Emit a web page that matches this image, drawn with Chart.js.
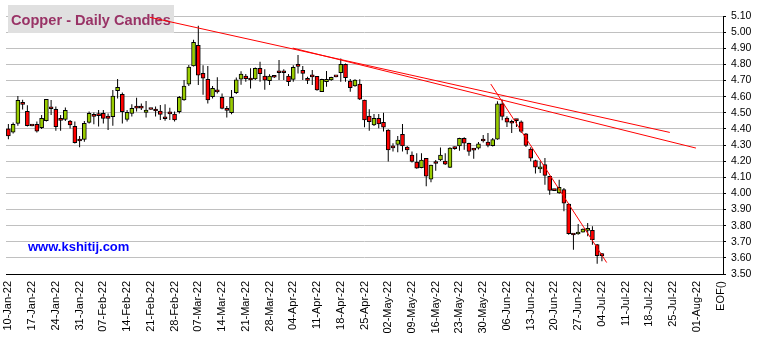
<!DOCTYPE html>
<html>
<head>
<meta charset="utf-8">
<script src="https://cdn.jsdelivr.net/npm/chart.js@4/dist/chart.umd.min.js"></script>
<style>
  html, body { margin: 0; padding: 0; background: #ffffff; }
  #wrap { width: 758px; height: 340px; }
</style>
</head>
<body>
<div id="wrap"><canvas id="c" width="758" height="340"></canvas></div>
<script>
// Weekly axis labels (one every 5 sessions), last slot is the end-of-file marker
const weekLabels = ['10-Jan-22','17-Jan-22','24-Jan-22','31-Jan-22','07-Feb-22','14-Feb-22','21-Feb-22','28-Feb-22',
  '07-Mar-22','14-Mar-22','21-Mar-22','28-Mar-22','04-Apr-22','11-Apr-22','18-Apr-22','25-Apr-22',
  '02-May-22','09-May-22','16-May-22','23-May-22','30-May-22','06-Jun-22','13-Jun-22','20-Jun-22','27-Jun-22',
  '04-Jul-22','11-Jul-22','18-Jul-22','25-Jul-22','01-Aug-22','EOF()'];

// Daily copper OHLC, one entry per session starting 10-Jan-22
const open = [4.400,4.379,4.434,4.557,4.509,4.422,4.428,4.407,4.451,4.529,
  4.521,4.457,4.459,4.449,4.416,4.331,4.335,4.440,4.482,4.486,
  4.496,4.480,4.476,4.637,4.614,4.459,4.496,4.533,4.533,4.502,
  4.523,4.515,4.511,4.467,4.505,4.492,4.507,4.579,4.678,4.790,
  4.918,4.745,4.707,4.600,4.633,4.595,4.519,4.501,4.624,4.708,
  4.728,4.707,4.710,4.776,4.728,4.699,4.724,4.752,4.752,4.728,
  4.707,4.792,4.763,4.705,4.726,4.726,4.631,4.693,4.703,4.726,
  4.748,4.800,4.697,4.666,4.678,4.579,4.480,4.424,4.466,4.441,
  4.393,4.286,4.304,4.366,4.287,4.238,4.194,4.160,4.217,4.088,
  4.189,4.207,4.200,4.161,4.282,4.294,4.342,4.311,4.272,4.280,
  4.329,4.318,4.296,4.336,4.556,4.467,4.439,4.455,4.444,4.369,
  4.274,4.203,4.151,4.178,4.106,4.021,4.003,4.023,3.934,3.746,
  3.748,3.760,3.771,3.771,3.682,3.618];

const high = [4.430,4.440,4.604,4.580,4.546,4.423,4.445,4.486,4.585,4.579,
  4.538,4.486,4.533,4.455,4.445,4.356,4.449,4.507,4.502,4.517,
  4.517,4.496,4.641,4.709,4.626,4.517,4.552,4.593,4.558,4.573,
  4.524,4.538,4.548,4.552,4.531,4.507,4.604,4.703,4.796,4.952,
  5.039,4.794,4.790,4.666,4.720,4.620,4.542,4.641,4.718,4.758,
  4.740,4.776,4.780,4.817,4.770,4.738,4.730,4.827,4.770,4.740,
  4.794,4.858,4.790,4.724,4.765,4.728,4.711,4.759,4.724,4.728,
  4.837,4.806,4.710,4.707,4.708,4.580,4.522,4.493,4.493,4.500,
  4.398,4.311,4.356,4.431,4.294,4.259,4.249,4.249,4.218,4.178,
  4.207,4.284,4.249,4.286,4.290,4.345,4.348,4.314,4.282,4.318,
  4.362,4.375,4.343,4.571,4.581,4.478,4.457,4.462,4.452,4.374,
  4.286,4.209,4.199,4.220,4.110,4.024,4.085,4.033,3.940,3.748,
  3.810,3.782,3.816,3.796,3.686,3.630];

const low = [4.335,4.372,4.420,4.520,4.414,4.417,4.378,4.399,4.445,4.486,
  4.389,4.389,4.449,4.403,4.310,4.286,4.320,4.434,4.428,4.414,
  4.434,4.393,4.420,4.589,4.434,4.445,4.476,4.507,4.517,4.471,
  4.519,4.476,4.455,4.451,4.455,4.445,4.496,4.575,4.666,4.787,
  4.672,4.611,4.558,4.589,4.620,4.521,4.471,4.490,4.616,4.673,
  4.693,4.650,4.703,4.693,4.643,4.672,4.715,4.703,4.703,4.666,
  4.693,4.744,4.703,4.678,4.672,4.637,4.631,4.662,4.699,4.720,
  4.693,4.693,4.631,4.662,4.579,4.410,4.389,4.418,4.404,4.383,
  4.197,4.259,4.255,4.259,4.242,4.191,4.152,4.156,4.044,4.069,
  4.141,4.201,4.176,4.157,4.270,4.265,4.270,4.234,4.214,4.272,
  4.315,4.286,4.290,4.333,4.453,4.412,4.375,4.412,4.375,4.288,
  4.199,4.123,4.127,4.054,3.992,4.015,3.998,3.889,3.744,3.651,
  3.744,3.757,3.734,3.682,3.564,3.579];

const close = [4.356,4.428,4.577,4.552,4.420,4.418,4.385,4.465,4.583,4.525,
  4.414,4.453,4.515,4.424,4.314,4.325,4.434,4.496,4.478,4.482,
  4.465,4.465,4.604,4.657,4.507,4.502,4.527,4.529,4.529,4.517,
  4.520,4.511,4.490,4.463,4.492,4.455,4.595,4.666,4.783,4.937,
  4.733,4.714,4.580,4.652,4.629,4.527,4.515,4.596,4.704,4.740,
  4.711,4.703,4.776,4.742,4.702,4.728,4.720,4.748,4.748,4.693,
  4.782,4.788,4.744,4.701,4.722,4.641,4.707,4.707,4.720,4.722,
  4.800,4.717,4.656,4.703,4.584,4.455,4.445,4.466,4.431,4.410,
  4.269,4.282,4.331,4.294,4.270,4.198,4.157,4.207,4.107,4.176,
  4.185,4.238,4.181,4.281,4.278,4.342,4.311,4.260,4.268,4.307,
  4.325,4.298,4.333,4.556,4.477,4.442,4.435,4.451,4.384,4.298,
  4.219,4.162,4.164,4.112,4.019,4.017,4.038,3.940,3.750,3.742,
  3.760,3.779,3.779,3.713,3.614,3.614];

// Hand-drawn trend lines: [session index, price] end points
const trendUpper = [[29.8, 5.092], [139.3, 4.378]];
const trendLower = [[59.9, 4.901], [144.8, 4.281]];
const trendSteep = [[101.6, 4.678], [126.0, 3.571]];

const UP = '#99cc00', DOWN = '#ff0000', TREND = '#ff0000';

const bodies = open.map((o, i) => ({ x: i, y: [o, close[i]] }));
const wicks  = open.map((o, i) => ({ x: i, y: [low[i], high[i]] }));
const bodyColors = open.map((o, i) => close[i] >= o ? UP : DOWN);
const toPts = seg => seg.map(p => ({ x: p[0], y: p[1] }));

const FONT = '"Liberation Sans", Arial, sans-serif';

// Grey title plate drawn under the data, plus site tag drawn on top
const decorations = {
  id: 'decorations',
  beforeDatasetsDraw(chart) {
    const ctx = chart.ctx;
    ctx.save();
    ctx.fillStyle = '#e0e0e0';
    ctx.fillRect(8, 5, 166, 28);
    ctx.fillStyle = '#993366';
    ctx.font = 'bold 14.6px ' + FONT;
    ctx.textBaseline = 'alphabetic';
    ctx.textAlign = 'left';
    ctx.fillText('Copper - Daily Candles', 11, 24.5);
    ctx.restore();
  },
  afterDatasetsDraw(chart) {
    const ctx = chart.ctx;
    ctx.save();
    ctx.fillStyle = '#0000ff';
    ctx.font = 'bold 13px ' + FONT;
    ctx.textBaseline = 'alphabetic';
    ctx.textAlign = 'left';
    ctx.fillText('www.kshitij.com', 28, 251);
    ctx.restore();
  }
};

const lineDs = (pts) => ({
  type: 'line', data: toPts(pts), borderColor: TREND, borderWidth: 1,
  pointRadius: 0, fill: false, order: 0, tension: 0
});

new Chart(document.getElementById('c'), {
  type: 'bar',
  data: {
    datasets: [
      {
        label: 'body', data: bodies, backgroundColor: bodyColors,
        borderColor: '#000000', borderWidth: 1, borderSkipped: false,
        barThickness: 4, minBarLength: 2, grouped: false, order: 1
      },
      {
        label: 'range', data: wicks, backgroundColor: '#000000',
        borderWidth: 0, barThickness: 1, inflateAmount: 0, grouped: false, order: 2
      },
      lineDs(trendUpper),
      lineDs(trendLower),
      lineDs(trendSteep)
    ]
  },
  options: {
    responsive: false,
    animation: false,
    events: [],
    layout: { padding: { left: 6, top: 16, right: 0, bottom: 0 } },
    plugins: { legend: { display: false }, tooltip: { enabled: false }, title: { display: false } },
    scales: {
      x: {
        type: 'linear',
        offset: false,
        min: -0.5,
        max: 150.5,
        afterBuildTicks(scale) {
          scale.ticks = weekLabels.map((_, k) => ({ value: k * 5 }));
        },
        afterFit(scale) { scale.height = 66; },
        grid: { drawOnChartArea: false, drawTicks: false },
        border: { display: true, color: '#000000', width: 1 },
        ticks: {
          autoSkip: false,
          minRotation: 90,
          maxRotation: 90,
          padding: 7,
          color: '#000000',
          font: { family: FONT, size: 11 },
          callback: (v) => weekLabels[Math.round(v / 5)]
        }
      },
      y: {
        type: 'linear',
        position: 'right',
        min: 3.5,
        max: 5.1,
        afterFit(scale) { scale.width = 35; },
        grid: { color: '#c0c0c0', lineWidth: 1, drawTicks: true, tickLength: 3, tickColor: '#000000' },
        border: { display: true, color: '#000000', width: 1 },
        ticks: {
          stepSize: 0.1,
          padding: 5,
          color: '#000000',
          font: { family: FONT, size: 10.5 },
          callback: (v) => Number(v).toFixed(2)
        }
      }
    }
  },
  plugins: [decorations]
});
</script>
</body>
</html>
